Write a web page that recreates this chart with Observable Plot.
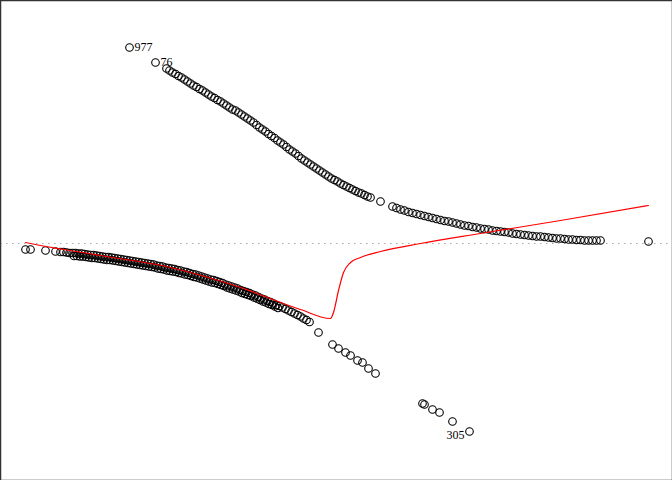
<!DOCTYPE html>
<html>
<head>
<meta charset="utf-8">
<script src="https://cdn.jsdelivr.net/npm/d3@7"></script>
<script src="https://cdn.jsdelivr.net/npm/@observablehq/plot@0.6"></script>
<style>
  html, body { margin: 0; padding: 0; background: #fff; }
  #chart svg { display: block; }
</style>
</head>
<body>
<div id="chart"></div>
<script>
// Fitted values (x) and residuals (y)
const upperFitted = [1.29,1.55,
  1.66,1.69,1.72,1.75,1.78,1.81,1.84,1.87,1.90,1.93,1.96,1.99,2.02,2.05,2.08,2.11,2.14,2.17,2.20,2.23,2.26,2.29,2.32,2.35,2.38,2.41,2.44,2.47,2.50,2.53,2.56,2.59,2.62,2.65,2.68,2.71,2.74,2.77,2.80,2.83,2.86,2.89,2.92,2.95,2.98,3.01,3.04,3.07,3.10,3.13,3.16,3.19,3.22,3.25,3.28,3.31,3.34,3.37,3.40,3.43,3.46,3.49,3.52,3.55,3.58,3.61,3.64,3.67,3.70,
  3.80,
  3.92,3.96,4.00,4.04,4.08,4.12,4.16,4.20,4.24,4.28,4.32,4.36,4.40,4.44,4.48,4.52,4.56,4.60,4.64,4.68,4.72,4.76,4.80,4.84,4.88,4.92,4.96,5.00,5.04,5.08,5.12,5.16,5.20,5.24,5.28,5.32,5.36,5.40,5.44,5.48,5.52,5.56,5.60,5.64,5.68,5.72,5.76,5.80,5.84,5.88,5.92,5.96,6.00,
  6.48];
const upperResid = [3.92,3.62,
  3.50,3.46,3.42,3.39,3.35,3.32,3.28,3.24,3.20,3.16,3.13,3.09,3.06,3.02,2.98,2.94,2.91,2.87,2.84,2.80,2.76,2.72,2.68,2.66,2.62,2.58,2.54,2.50,2.46,2.42,2.37,2.32,2.28,2.24,2.19,2.15,2.11,2.06,2.02,1.98,1.93,1.88,1.84,1.80,1.75,1.70,1.66,1.62,1.58,1.54,1.50,1.46,1.42,1.38,1.34,1.30,1.27,1.24,1.20,1.17,1.14,1.11,1.08,1.05,1.02,1.00,0.97,0.94,0.92,
  0.84,
  0.74,0.71,0.68,0.66,0.63,0.61,0.59,0.57,0.55,0.53,0.51,0.49,0.47,0.45,0.44,0.42,0.40,0.38,0.36,0.35,0.33,0.32,0.30,0.29,0.28,0.26,0.25,0.24,0.23,0.22,0.20,0.19,0.18,0.17,0.16,0.15,0.14,0.14,0.13,0.12,0.11,0.10,0.10,0.09,0.08,0.08,0.07,0.07,0.06,0.06,0.06,0.06,0.06,
  0.04];
const lowerFitted = [0.25,0.30,0.45,0.55,
  0.60,0.63,0.66,0.69,0.72,0.75,0.78,0.81,0.84,0.87,0.90,0.93,0.96,0.99,1.02,1.05,1.08,1.11,1.14,1.17,1.20,1.23,1.26,1.29,1.32,1.35,1.38,1.41,1.44,1.47,1.50,1.53,1.56,1.59,1.62,1.65,1.68,1.71,1.74,1.77,1.80,1.83,1.86,1.89,1.92,1.95,1.98,2.01,2.04,2.07,2.10,2.13,2.16,2.19,2.22,2.25,2.28,2.31,2.34,2.37,2.40,2.43,2.46,2.49,2.52,2.55,2.58,2.61,2.64,2.67,2.70,2.73,2.76,2.79,2.82,2.85,2.88,2.91,2.94,2.97,3.00,3.03,3.06,3.09,
  3.18,3.32,3.38,3.45,3.50,3.57,3.62,3.68,3.75,4.22,4.24,4.32,4.39,4.52,4.69];
const lowerResid = [-0.12,-0.12,-0.14,-0.16,
  -0.17,-0.17,-0.18,-0.19,-0.19,-0.19,-0.20,-0.20,-0.21,-0.22,-0.23,-0.23,-0.24,-0.25,-0.26,-0.27,-0.27,-0.28,-0.29,-0.30,-0.31,-0.32,-0.33,-0.34,-0.35,-0.36,-0.37,-0.38,-0.39,-0.40,-0.41,-0.42,-0.44,-0.45,-0.46,-0.48,-0.49,-0.50,-0.51,-0.53,-0.54,-0.56,-0.57,-0.59,-0.61,-0.62,-0.64,-0.66,-0.68,-0.70,-0.72,-0.73,-0.75,-0.77,-0.79,-0.82,-0.84,-0.86,-0.88,-0.90,-0.93,-0.95,-0.97,-0.99,-1.02,-1.04,-1.07,-1.10,-1.12,-1.15,-1.17,-1.20,-1.23,-1.25,-1.28,-1.31,-1.34,-1.37,-1.40,-1.43,-1.46,-1.50,-1.53,-1.57,
  -1.78,-2.02,-2.10,-2.18,-2.24,-2.34,-2.38,-2.50,-2.60,-3.20,-3.22,-3.32,-3.38,-3.56,-3.76];
// second layer of the thick lower band
const bandFitted = [0.735,0.765,0.795,0.825,0.855,0.885,0.915,0.945,0.975,1.005,1.035,1.065,1.095,1.125,1.155,1.185,1.215,1.245,1.275,1.305,1.335,1.365,1.395,1.425,1.455,1.485,1.515,1.545,1.575,1.605,1.635,1.665,1.695,1.725,1.755,1.785,1.815,1.845,1.875,1.905,1.935,1.965,1.995,2.025,2.055,2.085,2.115,2.145,2.175,2.205,2.235,2.265,2.295,2.325,2.355,2.385,2.415,2.445,2.475,2.505,2.535,2.565,2.595,2.625,2.655,2.685,2.715,2.745,2.775];
const bandResid = [-0.25,-0.25,-0.26,-0.26,-0.27,-0.28,-0.29,-0.29,-0.30,-0.31,-0.32,-0.33,-0.33,-0.34,-0.35,-0.36,-0.37,-0.38,-0.39,-0.40,-0.41,-0.42,-0.43,-0.44,-0.45,-0.46,-0.47,-0.48,-0.50,-0.51,-0.52,-0.54,-0.55,-0.56,-0.57,-0.59,-0.60,-0.62,-0.63,-0.65,-0.67,-0.68,-0.70,-0.72,-0.74,-0.76,-0.78,-0.79,-0.81,-0.83,-0.85,-0.88,-0.90,-0.92,-0.94,-0.96,-0.99,-1.01,-1.03,-1.05,-1.08,-1.10,-1.13,-1.16,-1.18,-1.21,-1.23,-1.26,-1.29];
// smoother (red line)
const smoothFitted = [0.25,0.40,1.00,1.70,2.40,3.00,3.30,3.33,3.38,3.43,3.50,3.60,3.80,4.20,4.80,5.60,6.48];
const smoothResid = [0.02,-0.04,-0.24,-0.48,-0.88,-1.32,-1.50,-1.38,-0.94,-0.58,-0.38,-0.28,-0.16,0.00,0.20,0.46,0.76];
// labelled observations
const labelIds = ["977","76","305"];
const labelFitted = [1.29,1.55,4.69];
const labelResid = [3.92,3.62,-3.76];

const pts = [];
upperFitted.forEach((x,i)=>pts.push({x, y: upperResid[i]}));
lowerFitted.forEach((x,i)=>pts.push({x, y: lowerResid[i]}));
bandFitted.forEach((x,i)=>pts.push({x, y: bandResid[i]}));
const smooth = smoothFitted.map((x,i)=>({x, y: smoothResid[i]}));
const labels = labelIds.map((id,i)=>({id, x: labelFitted[i], y: labelResid[i]}));
const rightLabels = labels.filter(d => d.id !== "305");
const leftLabels = labels.filter(d => d.id === "305");

const chart = Plot.plot({
  width: 672,
  height: 480,
  marginTop: 0, marginRight: 0, marginBottom: 0, marginLeft: 0,
  style: {fontFamily: "'Liberation Serif', serif", background: "#fff"},
  x: {domain: [0, 6.72], axis: null},
  y: {domain: [-4.74, 4.86], axis: null},
  marks: [
    Plot.ruleY([0], {stroke: "#aaa", strokeDasharray: "1.5,4.5", strokeWidth: 1.2}),
    Plot.dot(pts, {x: "x", y: "y", r: 3.8, stroke: "black", strokeWidth: 1.1, fill: "none"}),
    Plot.line(smooth, {x: "x", y: "y", stroke: "red", strokeWidth: 1.2, curve: "monotone-x"}),
    Plot.text(rightLabels, {x: "x", y: "y", text: "id", dx: 5, dy: 0, textAnchor: "start", fontSize: 12, fill: "black"}),
    Plot.text(leftLabels, {x: "x", y: "y", text: "id", dx: -5, dy: 4, textAnchor: "end", fontSize: 12, fill: "black"}),
    Plot.frame({stroke: "#333", strokeWidth: 1.5})
  ]
});
document.getElementById("chart").appendChild(chart);
</script>
</body>
</html>
